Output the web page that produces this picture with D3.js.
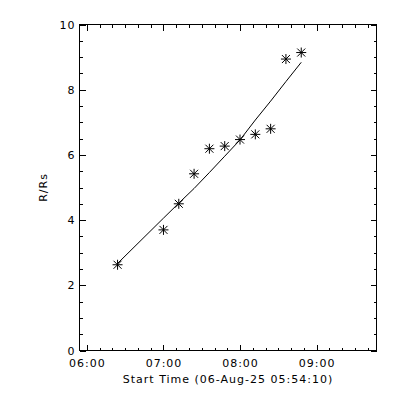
<!DOCTYPE html>
<html>
<head>
<meta charset="utf-8">
<script src="https://cdn.jsdelivr.net/npm/d3@7"></script>
<style>
  body { margin: 0; background: #fff; }
  svg text { font-family: "DejaVu Sans", sans-serif; font-size: 11px; fill: #000; letter-spacing: 1px; }
</style>
</head>
<body>
<svg id="chart" width="400" height="400"></svg>
<script>
// observation times (06-Aug-25, UT) and measured heights
const times = ["06:24", "07:00", "07:12", "07:24", "07:36", "07:48", "08:00", "08:12", "08:24", "08:36", "08:48"];
const heights = [2.63, 3.70, 4.50, 5.42, 6.19, 6.27, 6.47, 6.63, 6.80, 8.94, 9.14];
// fitted curve at the same times
const fitHeights = [2.67, 4.06, 4.52, 4.97, 5.46, 5.96, 6.46, 7.07, 7.65, 8.25, 8.84];
const xStart = "05:54:10";
const xEnd = "09:47:00";
const xTicks = ["06:00", "07:00", "08:00", "09:00"];
const yTicks = [0, 2, 4, 6, 8, 10];
const xLabel = "Start Time (06-Aug-25 05:54:10)";
const yLabel = "R/Rs";

function toDate(s) {
  let p = s.split(":").map(Number);
  return new Date(Date.UTC(2025, 7, 6, p[0], p[1], p[2] || 0));
}

const plotL = 79.5, plotR = 376.5, plotT = 24.5, plotB = 350.5;

const svg = d3.select("#chart");

let x = d3.scaleUtc().domain([toDate(xStart), toDate(xEnd)]).range([plotL, plotR]);
let y = d3.scaleLinear().domain([0, 10]).range([plotB, plotT]);

// minor tick values
let xMinor = d3.utcMinute.every(10).range(toDate(xStart), toDate(xEnd));
let yMinor = d3.range(0, 10.01, 0.5);
let xMajor = xTicks.map(toDate);
let fmt = d3.utcFormat("%H:%M");

function axisGroup(axis, tx, ty) {
  let g = svg.append("g").attr("transform", `translate(${tx},${ty})`).call(axis);
  g.select(".domain").remove();
  g.selectAll("line").attr("stroke", "#000").attr("shape-rendering", "crispEdges");
  g.attr("font-family", null).attr("font-size", null);
  return g;
}

// bottom
axisGroup(d3.axisBottom(x).tickValues(xMinor).tickSize(-3).tickFormat(""), 0, plotB);
axisGroup(d3.axisBottom(x).tickValues(xMajor).tickSize(-6).tickPadding(9).tickFormat(fmt), 0, plotB);
// top
axisGroup(d3.axisTop(x).tickValues(xMinor).tickSize(-3).tickFormat(""), 0, plotT);
axisGroup(d3.axisTop(x).tickValues(xMajor).tickSize(-6).tickFormat(""), 0, plotT);
// left
axisGroup(d3.axisLeft(y).tickValues(yMinor).tickSize(-3).tickFormat(""), plotL, 0);
axisGroup(d3.axisLeft(y).tickValues(yTicks).tickSize(-6).tickPadding(4).tickFormat(d3.format("d")), plotL, 0);
// right
axisGroup(d3.axisRight(y).tickValues(yMinor).tickSize(-3).tickFormat(""), plotR, 0);
axisGroup(d3.axisRight(y).tickValues(yTicks).tickSize(-6).tickFormat(""), plotR, 0);

svg.append("rect")
  .attr("x", plotL).attr("y", plotT)
  .attr("width", plotR - plotL).attr("height", plotB - plotT)
  .attr("fill", "none").attr("stroke", "#000").attr("shape-rendering", "crispEdges");

// fit line
let pts = times.map((t, i) => ({ t: toDate(t), r: heights[i], f: fitHeights[i] }));
let line = d3.line().x(d => x(d.t)).y(d => y(d.f));
svg.append("path")
  .datum(pts)
  .attr("d", line)
  .attr("fill", "none")
  .attr("stroke", "#000")
  .attr("stroke-width", 1);

// asterisk markers
const star = "M0,-5V5M-5,0H5M-4,-4L4,4M-4,4L4,-4";
svg.selectAll(".pt").data(pts).join("path")
  .attr("class", "pt")
  .attr("transform", d => `translate(${x(d.t)},${y(d.r)})`)
  .attr("d", star)
  .attr("stroke", "#000")
  .attr("stroke-width", 1)
  .attr("fill", "none");

// axis titles
svg.append("text")
  .attr("x", (plotL + plotR) / 2).attr("y", 383)
  .attr("text-anchor", "middle")
  .text(xLabel);

svg.append("text")
  .attr("transform", `translate(47,${(plotT + plotB) / 2}) rotate(-90)`)
  .attr("text-anchor", "middle")
  .text(yLabel);
</script>
</body>
</html>
